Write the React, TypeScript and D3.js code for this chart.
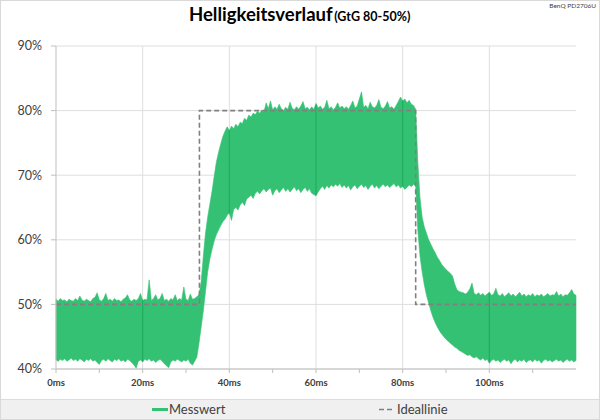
import React from "react";
import * as d3 from "d3";

// ---------- data ----------
const SAMPLE_STEP_MS = 0.5; // Messwert sampled every 0.5 ms, 0..120 ms

// upper envelope of the measured band (%), rows of 5 ms
const messwertUpper: number[] = [
  50.8, 50.5, 50.9, 50.6, 50.7, 50.4, 50.8, 50.6, 50.5, 50.9,
  50.6, 51.3, 50.7, 50.5, 50.8, 50.6, 50.4, 50.9, 51.1, 51.8,
  50.7, 50.5, 50.9, 51.7, 50.6, 50.8, 50.5, 50.9, 50.6, 50.7,
  50.4, 50.8, 51.0, 51.5, 50.7, 50.5, 50.8, 50.6, 50.9, 51.7,
  50.6, 50.8, 50.7, 53.8, 50.6, 50.9, 51.5, 50.7, 50.9, 51.7,
  50.6, 50.8, 50.5, 50.9, 50.7, 51.5, 50.6, 50.9, 50.7, 52.7,
  50.8, 50.6, 51.6, 50.8, 50.9, 51.2, 51.5, 53.5, 57.5, 61.0,
  63.5, 65.5, 67.5, 69.8, 72.0, 73.5, 74.8, 76.0, 76.8, 77.5,
  76.9, 77.6, 77.2, 77.9, 77.5, 78.2, 78.0, 78.8, 78.5, 79.3,
  79.0, 79.6, 79.4, 79.9, 79.6, 80.1, 79.8, 81.2, 80.3, 81.5,
  80.1, 80.6, 80.2, 81.0, 80.3, 80.0, 80.5, 80.2, 81.3, 80.4,
  80.1, 80.6, 80.2, 80.7, 81.4, 80.3, 80.5, 80.1, 80.6, 80.2,
  81.1, 80.4, 80.7, 80.2, 80.5, 81.6, 80.3, 80.6, 80.1, 80.5,
  81.2, 80.4, 80.7, 80.3, 80.6, 80.2, 80.8, 81.5, 80.4, 80.7,
  81.8, 82.9, 80.5, 80.8, 80.3, 81.3, 80.6, 80.4, 80.8, 81.7,
  80.5, 80.3, 80.7, 81.4, 80.4, 80.6, 80.2, 80.8, 81.4, 82.1,
  81.5, 81.8, 81.2, 81.6, 81.0, 80.8, 80.2, 72.0, 66.5, 63.5,
  62.0, 61.0, 60.0, 59.3, 58.6, 58.0, 57.3, 56.8, 56.2, 55.8,
  55.4, 55.1, 54.8, 54.4, 53.2, 52.3, 52.0, 51.9, 51.8, 51.6,
  51.9, 52.4, 53.3, 51.7, 51.5, 51.8, 51.4, 51.7, 51.3, 51.6,
  51.9, 51.4, 51.6, 52.5, 51.5, 51.3, 51.7, 51.2, 51.5, 51.8,
  51.3, 51.6, 51.2, 51.5, 51.9, 51.3, 51.6, 51.2, 51.5, 51.3,
  51.7, 51.2, 51.5, 51.3, 51.6, 51.2, 51.4, 51.7, 51.3, 51.5,
  51.4, 52.0, 51.3, 51.6, 51.2, 51.5, 51.4, 51.8, 52.3, 51.6,
  51.4,
];

// lower envelope of the measured band (%), rows of 5 ms
const messwertLower: number[] = [
  41.4, 41.2, 41.5, 41.3, 41.6, 41.2, 41.4, 41.7, 41.3, 41.5,
  41.2, 41.6, 41.4, 41.1, 41.5, 41.3, 41.6, 41.2, 41.4, 41.0,
  40.7, 41.3, 41.5, 41.2, 41.6, 41.3, 41.1, 41.5, 41.3, 41.6,
  41.2, 41.4, 41.1, 41.5, 41.3, 41.0, 40.6, 40.1, 41.2, 41.4,
  41.1, 41.5, 41.3, 41.6, 41.2, 41.4, 41.0, 41.3, 41.5, 41.2,
  40.8, 40.5, 40.2, 41.1, 41.4, 41.2, 41.5, 41.3, 41.1, 41.4,
  41.2, 41.5, 40.9, 40.6, 41.2, 41.8, 44.0, 46.5, 49.0, 52.0,
  55.0, 57.0, 58.5, 59.8, 60.8, 61.5, 62.2, 62.8, 63.2, 63.8,
  64.2, 63.0, 64.7, 65.0, 64.6, 65.4, 65.8, 65.3, 66.3, 66.6,
  66.9, 66.4, 67.2, 67.5, 67.1, 67.6, 67.9, 67.4, 67.8, 68.0,
  66.9, 67.6, 67.9, 67.3, 67.7, 68.1, 67.5, 67.9, 67.4, 67.8,
  68.2, 67.6, 67.9, 67.3, 67.8, 68.1, 67.5, 67.9, 67.2, 67.0,
  66.8, 67.4, 67.9, 68.3, 67.8, 68.4, 68.0, 68.5, 68.2, 68.6,
  68.3, 68.7, 68.1, 68.5, 68.0, 68.4, 67.7, 68.2, 68.5, 67.9,
  68.3, 68.6, 68.1, 68.4, 67.8, 68.3, 68.6, 68.0, 68.4, 67.9,
  68.3, 68.6, 68.2, 68.5, 68.1, 68.4, 68.7, 68.2, 68.5, 68.0,
  68.3, 67.8, 68.1, 68.5, 68.2, 68.6, 68.3, 61.5, 57.5, 55.0,
  53.0, 51.4, 50.2, 49.0, 48.0, 47.2, 46.5, 45.9, 45.4, 45.0,
  44.6, 44.3, 44.0, 43.7, 43.4, 43.2, 42.9, 42.7, 42.5, 42.3,
  42.1, 42.2, 41.9, 41.7, 41.9, 41.6, 41.4, 41.7, 41.3, 41.5,
  40.9, 41.3, 41.5, 41.2, 41.4, 41.0, 41.3, 41.5, 41.2, 41.4,
  40.8, 41.3, 41.5, 41.1, 41.4, 41.2, 41.5, 41.0, 41.3, 41.4,
  41.1, 41.5, 41.2, 41.4, 40.9, 41.3, 41.5, 41.2, 41.4, 41.1,
  41.3, 41.5, 41.2, 41.4, 41.0, 41.3, 41.5, 41.2, 41.4, 41.1,
  41.3,
];

// ideal line corner points
const idealTimes: number[] = [0, 33.1, 33.1, 83, 83, 120];
const idealValues: number[] = [50, 50, 80, 80, 50, 50];

const yTicks: number[] = [40, 50, 60, 70, 80, 90];
const xLabelTicks: number[] = [0, 20, 40, 60, 80, 100];
const xMinorTicks: number[] = [0, 10, 20, 30, 40, 50, 60, 70, 80, 90, 100, 110];

const titleMain = "Helligkeitsverlauf";
const titleSub = "(GtG 80-50%)";
const deviceLabel = "BenQ PD2706U";
const legendMess = "Messwert";
const legendIdeal = "Ideallinie";

// ---------- layout ----------
const W = 600;
const H = 420;
const M = { left: 56, right: 576, top: 46, bottom: 369 };
const FONT = "Lato, 'Open Sans', sans-serif";
const GREEN = "#35c173";

export default function App() {
  const x = d3.scaleLinear().domain([0, 120]).range([M.left, M.right]);
  const y = d3.scaleLinear().domain([40, 90]).range([M.bottom, M.top]);

  const band = messwertUpper.map((u, i) => ({
    t: i * SAMPLE_STEP_MS,
    hi: u,
    lo: messwertLower[i],
  }));

  const areaGen = d3
    .area<{ t: number; hi: number; lo: number }>()
    .x((d) => x(d.t))
    .y0((d) => y(d.lo))
    .y1((d) => y(d.hi));
  const areaPath = areaGen(band) || "";

  const idealPts = idealTimes.map((t, i) => [t, idealValues[i]] as [number, number]);
  const idealPath =
    d3
      .line<[number, number]>()
      .x((d) => x(d[0]))
      .y((d) => y(d[1]))(idealPts) || "";

  return (
    <svg
      width={W}
      height={H}
      style={{ position: "absolute", left: 0, top: 0, background: "#fff" }}
      fontFamily={FONT}
    >
      <defs>
        <clipPath id="bandClip">
          <path d={areaPath} />
        </clipPath>
      </defs>
      <rect x={0} y={0} width={W} height={H} fill="#fff" />

      {/* title */}
      <text x={189} y={21} fill="#000" fontWeight={700}>
        <tspan fontSize={18.5}>{titleMain}</tspan>
        <tspan fontSize={12.5} dx={1.5}>{titleSub}</tspan>
      </text>
      <text x={596} y={7.5} fontSize={6.5} fill="#404040" textAnchor="end">
        {deviceLabel}
      </text>

      {/* horizontal grid */}
      {yTicks.map((v) => (
        <line key={"hg" + v} x1={M.left} x2={M.right} y1={y(v)} y2={y(v)} stroke="#dedede" strokeWidth={1} />
      ))}
      {/* vertical grid */}
      {xLabelTicks
        .filter((t) => t > 0)
        .map((t) => (
          <line key={"vg" + t} x1={x(t)} x2={x(t)} y1={M.top} y2={M.bottom} stroke="#dedede" strokeWidth={1} />
        ))}

      {/* measured band */}
      <path d={areaPath} fill={GREEN} stroke={GREEN} strokeWidth={0.6} strokeLinejoin="miter" />
      <g clipPath="url(#bandClip)">
        {xLabelTicks
          .filter((t) => t > 0)
          .map((t) => (
            <line key={"dg" + t} x1={x(t)} x2={x(t)} y1={M.top} y2={M.bottom} stroke="#1fae5e" strokeWidth={1.2} />
          ))}
      </g>

      {/* ideal line */}
      <path d={idealPath} fill="none" stroke="#808080" strokeWidth={1.6} strokeDasharray="5,3" />

      {/* axes */}
      <line x1={M.left} x2={M.left} y1={M.top} y2={M.bottom} stroke="#bfbfbf" />
      <line x1={M.left} x2={M.right} y1={M.bottom} y2={M.bottom} stroke="#bfbfbf" />
      {yTicks.map((v) => (
        <g key={"yt" + v}>
          <line x1={M.left - 5} x2={M.left} y1={y(v)} y2={y(v)} stroke="#bfbfbf" />
          <text x={42} y={y(v)} dy="0.35em" fontSize={12.5} fill="#404040" textAnchor="end">
            {v}%
          </text>
        </g>
      ))}
      {xMinorTicks.map((t) => (
        <line key={"xt" + t} x1={x(t)} x2={x(t)} y1={M.bottom} y2={M.bottom + 4} stroke="#bfbfbf" />
      ))}
      {xLabelTicks.map((t) => (
        <text key={"xl" + t} x={x(t)} y={385.5} fontSize={9.5} fontWeight={700} fill="#404040" textAnchor="middle">
          {t}ms
        </text>
      ))}

      {/* legend band */}
      <rect x={0} y={399} width={W} height={21} fill="#f0f0f0" />
      <line x1={0} x2={W} y1={399.5} y2={399.5} stroke="#dcdcdc" />
      <line x1={152} x2={168} y1={409.5} y2={409.5} stroke={GREEN} strokeWidth={3} />
      <text x={169} y={414} fontSize={13} fill="#404040">
        {legendMess}
      </text>
      <line x1={379} x2={395} y1={409.5} y2={409.5} stroke="#808080" strokeWidth={1.6} strokeDasharray="5,3" />
      <text x={397} y={414} fontSize={13} fill="#404040">
        {legendIdeal}
      </text>

      {/* outer border */}
      <rect x={0.5} y={0.5} width={W - 1} height={H - 1} fill="none" stroke="#d9d9d9" />
    </svg>
  );
}
